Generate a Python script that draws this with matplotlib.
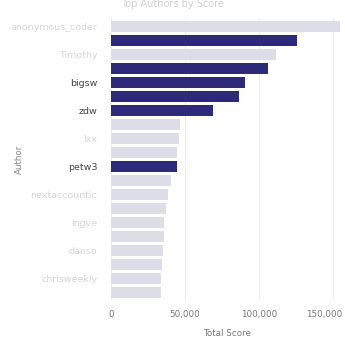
import matplotlib
matplotlib.use("Agg")
import matplotlib.pyplot as plt
import matplotlib.transforms as mtransforms
from matplotlib.ticker import FuncFormatter

authors = ["anonymous_coder", "dredmorbius", "Timothy", "jacquesm", "bigsw",
           "pvg", "zdw", "tptacek", "lxx", "rbanffy", "petw3", "ChuckMcM",
           "nextaccountic", "walterbell", "ingve", "throwaway12", "danso",
           "pseudolus", "chrisweekly", "Someone1234"]
scores = [155000, 126000, 111500, 106000, 90500, 86500, 69000, 46600, 46000,
          44800, 44900, 40500, 38500, 37000, 36000, 35500, 35000, 34500,
          34000, 33500]
highlighted = [False, True, False, True, True, True, True, False, False,
               False, True, False, False, False, False, False, False, False,
               False, False]
x_ticks = [0, 50000, 100000, 150000]

dark = "#2d2a78"
light = "#dcdde6"

fig = plt.figure(figsize=(3.45, 3.38), dpi=100)
ax = fig.add_axes([0.322, 0.112, 0.672, 0.835])

ypos = list(range(len(authors)))
colors = [dark if h else light for h in highlighted]
ax.barh(ypos, scores, height=0.8, color=colors, zorder=2)
ax.set_ylim(len(authors) - 0.45, -0.6)
ax.set_xlim(0, 157000)

ax.set_xticks(x_ticks)
ax.xaxis.set_major_formatter(FuncFormatter(lambda v, p: f"{int(v):,}"))
ax.grid(axis="x", color="#eeeeee", linewidth=0.8, zorder=0)
ax.set_axisbelow(True)

shown = ypos[::2]
ax.set_yticks(shown)
ax.set_yticklabels([authors[i] for i in shown])
for lbl, i in zip(ax.get_yticklabels(), shown):
    lbl.set_color("#444444" if highlighted[i] else "#d4d4dc")

ax.tick_params(axis="y", length=0, labelsize=6.8, pad=10)
ax.tick_params(axis="x", length=0, labelsize=6.3, colors="#777777", pad=7)
for s in ax.spines.values():
    s.set_visible(False)

fig.canvas.draw()
xl = ax.get_xticklabels()
last = xl[-1]
last.set_transform(last.get_transform() +
                   mtransforms.ScaledTranslation(-8 / 100, 0, fig.dpi_scale_trans))

ax.set_xlabel("Total Score", fontsize=6.3, color="#777777", labelpad=7)
ax.set_ylabel("Author", fontsize=6.3, color="#888888")
ax.yaxis.set_label_coords(-0.375, 0.5)

fig.text(0.5, 0.988, "Top Authors by Score", ha="center", va="center",
         fontsize=7, color="#cfcfd6")

fig.savefig("out.png", dpi=100)
